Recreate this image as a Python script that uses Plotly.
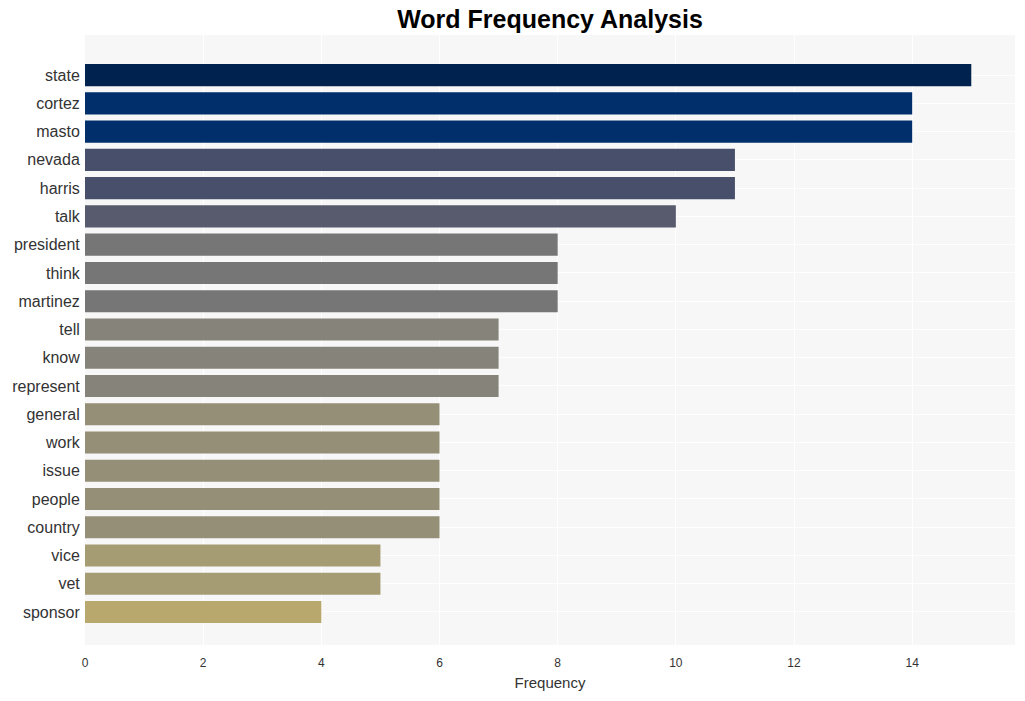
import plotly.graph_objects as go

words = ["state", "cortez", "masto", "nevada", "harris", "talk", "president", "think",
         "martinez", "tell", "know", "represent", "general", "work", "issue", "people",
         "country", "vice", "vet", "sponsor"]
freqs = [15, 14, 14, 11, 11, 10, 8, 8, 8, 7, 7, 7, 6, 6, 6, 6, 6, 5, 5, 4]
colors = ["#00224e", "#002f6c", "#002f6c", "#474f6b", "#474f6b", "#585b6d", "#767676",
          "#767676", "#767676", "#85837a", "#85837a", "#85837a", "#958f77", "#958f77",
          "#958f77", "#958f77", "#958f77", "#a59c74", "#a59c74", "#b8a86e"]

fig = go.Figure(go.Bar(
    x=freqs, y=words, orientation="h",
    marker=dict(color=colors, line=dict(width=0)),
    width=0.78,
))

fig.update_layout(
    width=1025, height=701,
    margin=dict(l=85, r=10, t=35, b=56),
    paper_bgcolor="white",
    plot_bgcolor="#f7f7f7",
    font=dict(family="Liberation Sans, Arial, sans-serif", color="#333333"),
    title=dict(text="<b>Word Frequency Analysis</b>", x=0.5, xref="paper",
               y=0.972, yref="container", yanchor="middle",
               font=dict(size=25, color="black")),
    showlegend=False,
)
fig.update_xaxes(
    range=[0, 15.74], dtick=2, showgrid=True, gridcolor="white", gridwidth=1,
    zeroline=False, tickfont=dict(size=12), automargin=False,
    ticks="outside", ticklen=7, tickcolor="rgba(0,0,0,0)",
    title=dict(text="Frequency", font=dict(size=15), standoff=8),
)
fig.update_yaxes(
    categoryorder="array", categoryarray=words, automargin=False,
    range=[20.17, -1.42], showgrid=True, gridcolor="white", gridwidth=1,
    tickfont=dict(size=16), ticks="outside", ticklen=1, tickcolor="rgba(0,0,0,0)",
)

fig.write_html("out.html")
